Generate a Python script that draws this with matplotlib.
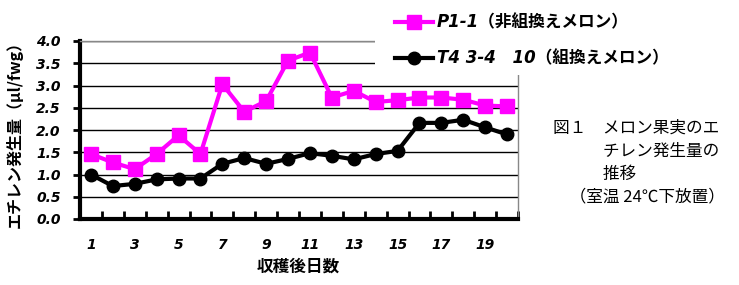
import matplotlib
matplotlib.use("Agg")
import matplotlib.pyplot as plt
from matplotlib.patches import Rectangle
import numpy as np

# days after harvest
days = list(range(1, 21))
# ethylene production (ul/fwg)
p1_1 = [1.46, 1.27, 1.12, 1.46, 1.88, 1.46, 3.03, 2.41, 2.65, 3.56,
        3.74, 2.73, 2.88, 2.63, 2.67, 2.73, 2.73, 2.68, 2.55, 2.53]
t4 = [1.00, 0.74, 0.79, 0.89, 0.91, 0.91, 1.24, 1.37, 1.24, 1.35,
      1.48, 1.42, 1.34, 1.46, 1.53, 2.16, 2.16, 2.23, 2.06, 1.90]
label_p1 = "P1-1（非組換えメロン）"
label_t4 = "T4 3-4　10（組換えメロン）"
ylabel = "エチレン発生量（μl/fwg）"
xlabel = "収穫後日数"
caption = ["図１　メロン果実のエ", "　　　チレン発生量の", "　　　推移", "　（室温 24℃下放置）"]

JP = ["Noto Sans CJK JP", "DejaVu Sans"]
LAT = ["DejaVu Sans", "Noto Sans CJK JP"]
W, H = 739, 285
fig = plt.figure(figsize=(W / 100, H / 100), dpi=100)
ax = fig.add_axes([80 / W, 1 - 219 / H, 438 / W, 178 / H])

ax.plot(days, p1_1, color="#ff00ff", lw=3, marker="s", ms=10, zorder=3, clip_on=False)
ax.plot(days, t4, color="black", lw=3, marker="o", ms=9, zorder=3, clip_on=False)

ax.set_xlim(0.5, 20.5)
ax.set_ylim(0, 4.0)
ax.set_yticks(np.arange(0, 4.01, 0.5))
ax.set_yticklabels([f"{v:.1f}" for v in np.arange(0, 4.01, 0.5)])
ax.set_xticks(days[::2])
ax.set_xticklabels([str(d) for d in days[::2]])
ax.set_xticks(np.arange(0.5, 20.6, 1), minor=True)
ax.tick_params(axis="x", which="major", length=0, pad=14)
ax.tick_params(axis="x", which="minor", direction="in", length=6, width=2)
ax.tick_params(axis="y", direction="out", length=5, width=2, pad=9)
for lab in ax.get_xticklabels() + ax.get_yticklabels():
    lab.set_fontweight("bold")
    lab.set_fontstyle("italic")
    lab.set_fontsize(10)

ax.grid(axis="y", color="black", lw=1)
ax.set_axisbelow(True)
for s in ["left", "bottom"]:
    ax.spines[s].set_linewidth(3)
for s in ["top", "right"]:
    ax.spines[s].set_color("#888888")
    ax.spines[s].set_linewidth(1)

# white box behind the legend hides the top-right gridlines
ax.add_patch(Rectangle((375 / W, 1 - 75 / H), 0.5, 0.5, transform=fig.transFigure,
                       facecolor="white", edgecolor="none", zorder=4, clip_on=False))

fig.text(14 / W, 1 - 130 / H, ylabel, rotation=90, ha="center", va="center",
         family=JP, fontsize=11.5, fontweight="bold")
fig.text(298 / W, 1 - 267 / H, xlabel, ha="center", va="center",
         family=JP, fontsize=12, fontweight="bold")

# legend
for y, col, mk, ms in [(22, "#ff00ff", "s", 10), (58, "black", "o", 9)]:
    fig.lines.append(plt.Line2D([395 / W, 414 / W, 433 / W], [1 - y / H] * 3,
                                transform=fig.transFigure, color=col, lw=3,
                                marker=mk, ms=ms, markevery=[1], zorder=5))
fig.text(437 / W, 1 - 22 / H, label_p1, ha="left", va="center", family=LAT,
         fontsize=12, fontweight="bold", style="italic", zorder=6)
fig.text(437 / W, 1 - 58 / H, label_t4, ha="left", va="center", family=LAT,
         fontsize=12, fontweight="bold", style="italic", zorder=6)

for i, line in enumerate(caption):
    fig.text(553 / W, 1 - (128 + i * 23) / H, line, ha="left", va="center",
             family=JP, fontsize=12)

fig.savefig("out.png", dpi=100)
